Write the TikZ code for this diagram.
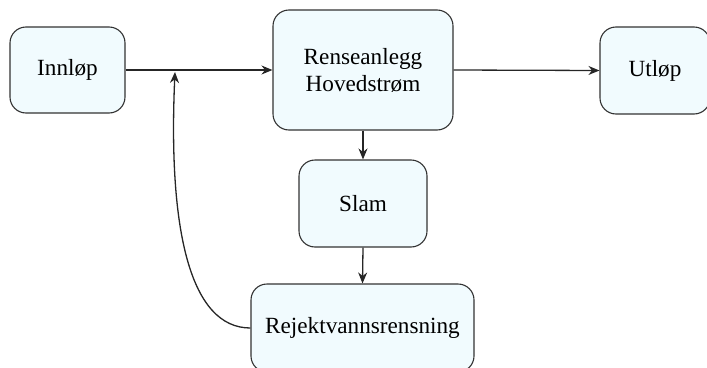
\documentclass[tikz,border=0pt]{standalone}
\usepackage{fontspec}
\setmainfont{Liberation Serif}
\usetikzlibrary{arrows.meta}
\definecolor{boxfill}{HTML}{F1FBFE}
\definecolor{boxline}{HTML}{333333}
\tikzset{
  unit/.style={draw=boxline, fill=boxfill, line width=1.1pt, rounded corners=16pt,
    align=center, font=\fontsize{23.2}{27}\selectfont, inner sep=0pt},
  flow/.style={draw=black!85, line width=1.3pt, -{Stealth[length=11pt,width=9pt]}}
}
\begin{document}
\begin{tikzpicture}[x=1pt,y=-1pt]
\useasboundingbox (0,0) rectangle (707,367);
\node[unit, minimum width=115pt, minimum height=86pt] (inn) at (67.5,70) {Innløp};
\node[unit, minimum width=180pt, minimum height=120pt] (rens) at (363,70) {Renseanlegg\\Hovedstrøm};
\node[unit, minimum width=110pt, minimum height=87pt] (ut) at (655,70.5) {Utløp};
\node[unit, minimum width=128pt, minimum height=87pt] (slam) at (363,203.5) {Slam};
\node[unit, minimum width=223pt, minimum height=88pt] (rej) at (362.5,328) {Rejektvannsrensning};
\coordinate (merge) at (175,72);
\draw[flow] (inn.east) -- (rens.west);
\draw[flow] (rens.east) -- (ut.west);
\draw[flow] (rens.south) -- (slam.north);
\draw[flow] (slam.south) -- (rej.north);
\draw[flow] (rej.west) .. controls (190,328) and (168,230) .. (merge);
\end{tikzpicture}
\end{document}
